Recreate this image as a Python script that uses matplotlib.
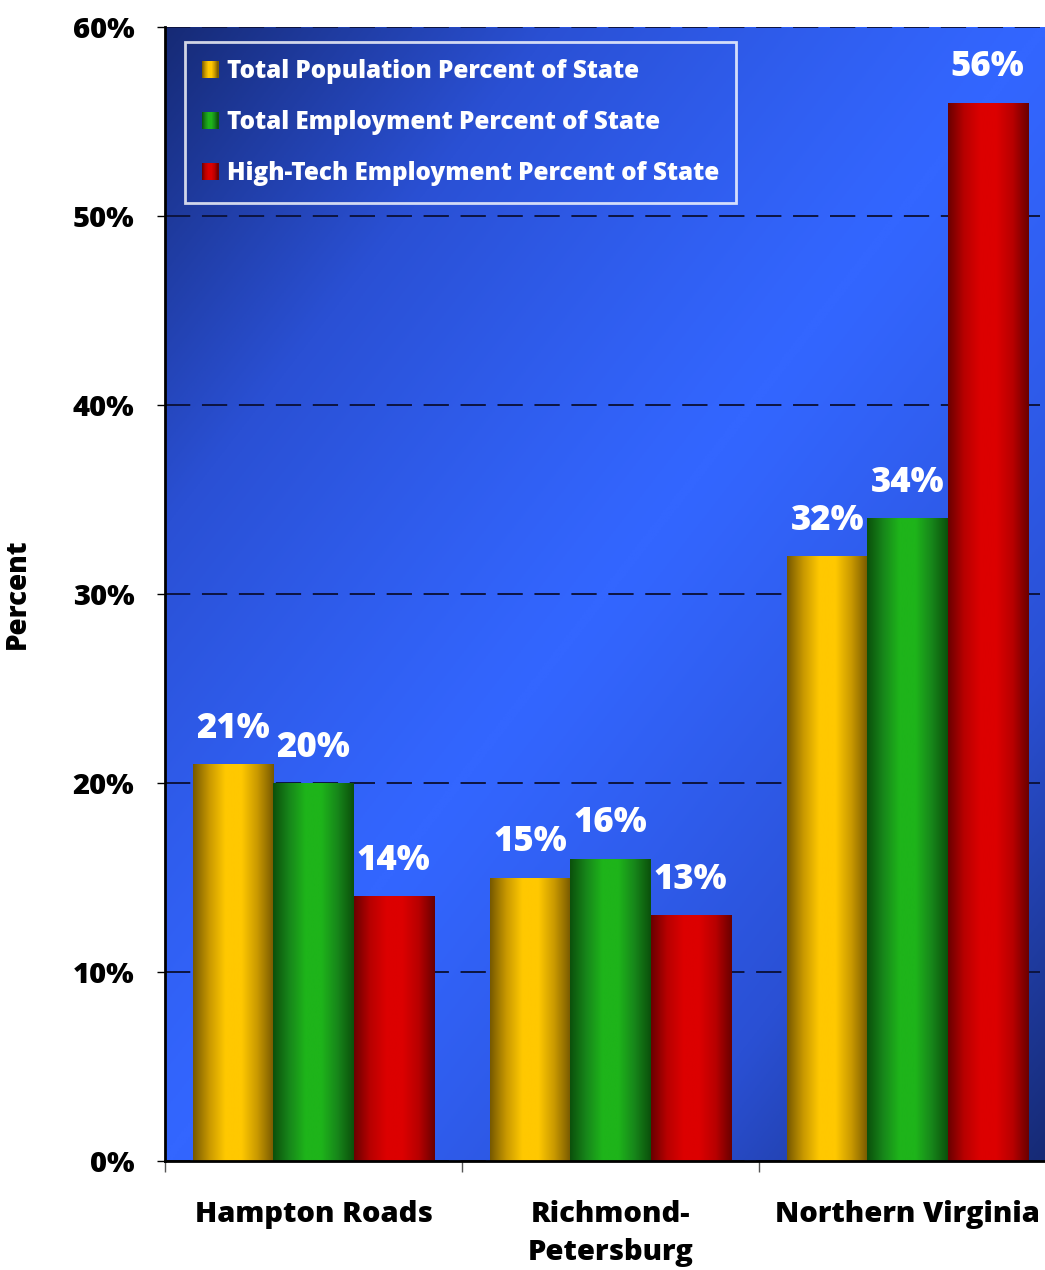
import numpy as np
import matplotlib
matplotlib.use('Agg')
import matplotlib.pyplot as plt
from matplotlib.colors import LinearSegmentedColormap
from matplotlib.legend_handler import HandlerBase
from matplotlib.patches import Rectangle

regioes = ['Hampton Roads', 'Richmond-\nPetersburg', 'Northern Virginia']
series = ['Total Population Percent of State',
          'Total Employment Percent of State',
          'High-Tech Employment Percent of State']
populacao = [21, 15, 32]
emprego = [20, 16, 34]
high_tech = [14, 13, 56]
valores = [populacao, emprego, high_tech]

fonte = 'Open Sans'
peso = 'heavy'

# gradientes das barras (borda escura, centro claro)
mapas = [
    LinearSegmentedColormap.from_list('am', ['#765800', '#c89800', '#ffc800', '#ffc800', '#c89800', '#765800']),
    LinearSegmentedColormap.from_list('vd', ['#0b500b', '#17861a', '#1eb41a', '#1eb41a', '#17861a', '#0b500b']),
    LinearSegmentedColormap.from_list('vm', ['#6a0000', '#b80000', '#dc0000', '#dc0000', '#b80000', '#6a0000']),
]


class HandlerGradiente(HandlerBase):
    def __init__(self, cmap):
        super().__init__()
        self.cmap = cmap

    def create_artists(self, legend, orig_handle, xdescent, ydescent,
                       width, height, fontsize, trans):
        n = 16
        x0 = -xdescent
        arts = []
        for i in range(n):
            r = Rectangle((x0 + i * width / n, -ydescent), width / n, height,
                          facecolor=self.cmap((i + 0.5) / n), edgecolor='none',
                          transform=trans)
            arts.append(r)
        return arts


fig = plt.figure(figsize=(10.45, 12.7), dpi=100)
ax = fig.add_axes([165 / 1045, 109 / 1270, 880 / 1045, 1134 / 1270])

# fundo em degradê
u, v = np.meshgrid(np.linspace(0, 1, 400), np.linspace(1, 0, 400))
t = (u + (1 - v)) / 2
brilho = 1 - np.abs(2 * t - 1) ** 1.2
fundo = LinearSegmentedColormap.from_list('fundo', ['#162a75', '#2a50d4', '#3366ff'])
ax.imshow(brilho, cmap=fundo, extent=(0, 1, 0, 1), transform=ax.transAxes,
          aspect='auto', zorder=0, vmin=0, vmax=1)

x = np.arange(len(regioes))
largura = 0.27
gradiente = np.linspace(0, 1, 256).reshape(1, -1)
handles = []
for i, (vals, cmap) in enumerate(zip(valores, mapas)):
    barras = ax.bar(x + (i - 1) * largura, vals, largura, color=cmap(0.5),
                    zorder=2, label=series[i])
    handles.append(barras)
    for b in barras:
        im = ax.imshow(gradiente, cmap=cmap, aspect='auto', zorder=2.1,
                       extent=(b.get_x(), b.get_x() + b.get_width(), 0, b.get_height()))
        im.set_clip_path(b)
        ax.annotate(f'{b.get_height():.0f}%', (b.get_x() + b.get_width() / 2, b.get_height()),
                    xytext=(0, 19), textcoords='offset points', ha='center', va='baseline',
                    color='white', fontsize=25, fontweight=peso, family=fonte, zorder=3)

ax.set_xlim(-0.5, 2.463)
ax.set_ylim(0, 60)
ax.set_yticks(np.arange(0, 61, 10))
ax.set_yticklabels([f'{v}%' for v in range(0, 61, 10)], fontsize=21,
                   fontweight=peso, family=fonte)
ax.yaxis.grid(True, color='#0d1440', linestyle=(0, (13, 6)), linewidth=1.4, zorder=1)
ax.set_axisbelow(True)

ax.set_xticks(x)
ax.set_xticklabels(regioes, fontsize=21, fontweight=peso, family=fonte, va='top',
                   linespacing=1.4)
ax.tick_params(axis='x', which='major', length=0, pad=28)
ax.set_xticks([-0.5, 0.5, 1.5], minor=True)
ax.tick_params(axis='x', which='minor', length=8, width=1, color='#555555')
ax.tick_params(axis='y', length=6, width=1, pad=16)

ax.set_ylabel('Percent', fontsize=20, fontweight=peso, family=fonte)
ax.yaxis.set_label_coords(-0.151, 0.5)

ax.spines['top'].set_visible(False)
ax.spines['right'].set_visible(False)
ax.spines['left'].set_linewidth(2)
ax.spines['bottom'].set_linewidth(2)

leg = ax.legend(handles, series, loc='upper left',
                bbox_to_anchor=(20 / 880, (1161 - 42) / 1134), borderaxespad=0,
                handler_map={h: HandlerGradiente(m) for h, m in zip(handles, mapas)},
                frameon=True, fancybox=False, handlelength=0.7, handleheight=0.7,
                handletextpad=0.35, labelspacing=1.08, borderpad=0.68,
                prop={'family': fonte, 'weight': peso, 'size': 17.5})
leg.get_frame().set_facecolor('none')
leg.get_frame().set_edgecolor('white')
leg.get_frame().set_linewidth(2)
for txt in leg.get_texts():
    txt.set_color('white')
leg.set_zorder(4)

fig.savefig('out.png', dpi=100)
